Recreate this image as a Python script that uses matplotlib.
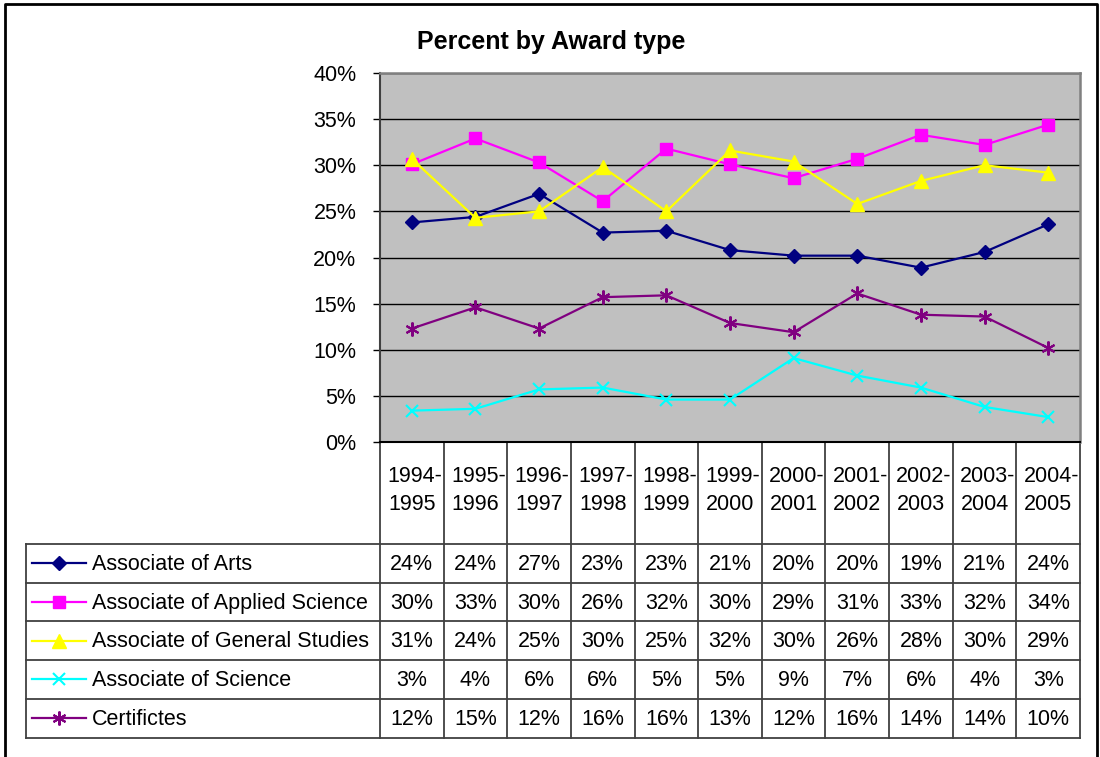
import numpy as np
import matplotlib
matplotlib.use("Agg")
import matplotlib.pyplot as plt

plt.rcParams['font.family'] = ['Liberation Sans', 'DejaVu Sans']

years = ["1994-\n1995", "1995-\n1996", "1996-\n1997", "1997-\n1998", "1998-\n1999",
         "1999-\n2000", "2000-\n2001", "2001-\n2002", "2002-\n2003", "2003-\n2004",
         "2004-\n2005"]

assoc_arts = [23.8, 24.4, 26.9, 22.7, 22.9, 20.8, 20.2, 20.2, 18.9, 20.6, 23.6]
assoc_applied = [30.1, 32.9, 30.3, 26.1, 31.8, 30.1, 28.6, 30.7, 33.3, 32.2, 34.4]
assoc_general = [30.7, 24.3, 25.0, 29.8, 25.0, 31.6, 30.4, 25.8, 28.3, 30.0, 29.2]
assoc_science = [3.4, 3.6, 5.7, 5.9, 4.6, 4.6, 9.1, 7.2, 5.9, 3.8, 2.7]
certificates = [12.3, 14.6, 12.3, 15.7, 15.9, 12.9, 11.9, 16.1, 13.8, 13.6, 10.2]

names = ["Associate of Arts", "Associate of Applied Science",
         "Associate of General Studies", "Associate of Science", "Certifictes"]
series = [assoc_arts, assoc_applied, assoc_general, assoc_science, certificates]

# colour, marker, marker size, marker edge width
styles = [("#000080", "D", 7.5, 1.0),
          ("#FF00FF", "s", 8, 1.0),
          ("#FFFF00", "^", 10, 1.0),
          ("#00FFFF", "x", 9, 1.5),
          ("#800080", (6, 2, 0), 10, 1.5)]

FS = 15.5

W, H = 1100, 757
fig = plt.figure(figsize=(W / 100, H / 100), dpi=100)

# plot area in pixels
px_l, px_r, px_t, px_b = 380, 1080, 73, 442
ax = fig.add_axes([px_l / W, 1 - px_b / H, (px_r - px_l) / W, (px_b - px_t) / H])
ax.set_facecolor("#C0C0C0")
n = len(years)
x = np.arange(n)
for vals, (c, m, ms, mew) in zip(series, styles):
    ax.plot(x, vals, color=c, lw=1.6, marker=m, ms=ms, mec=c, mfc=c, mew=mew,
            clip_on=False, zorder=3)
ax.set_xlim(-0.5, n - 0.5)
ax.set_ylim(0, 40)
ax.set_yticks(np.arange(0, 41, 5))
ax.set_yticklabels([f"{v}%" for v in range(0, 41, 5)], fontsize=FS)
ax.yaxis.grid(True, color="black", lw=1.0)
ax.set_axisbelow(True)
ax.set_xticks([])
ax.tick_params(axis="y", direction="out", length=5, width=1, pad=12)
for s in ["top", "right"]:
    ax.spines[s].set_color("#808080")
    ax.spines[s].set_linewidth(1.8)
ax.spines["left"].set_color("#404040")
ax.spines["left"].set_linewidth(1.5)
ax.spines["bottom"].set_color("black")
ax.spines["bottom"].set_linewidth(1.5)

fig.text(551 / W, 1 - 42 / H, "Percent by Award type", ha="center", va="center",
         fontsize=18, fontweight="bold")

# data table drawn in figure pixel coordinates
tab = fig.add_axes([0, 0, 1, 1], zorder=-1)
tab.set_xlim(0, W)
tab.set_ylim(H, 0)
tab.axis("off")

col_w = (px_r - px_l) / n
col_edges = [px_l + i * col_w for i in range(n + 1)]
row_top = 544
row_h = 38.7
row_edges = [row_top + i * row_h for i in range(len(series) + 1)]
leg_l = 26

line_c = "#404040"
for xe in col_edges:
    tab.plot([xe, xe], [px_b, row_edges[-1]], color=line_c, lw=1.3)
tab.plot([leg_l, leg_l], [row_top, row_edges[-1]], color=line_c, lw=1.3)
for ye in row_edges:
    tab.plot([leg_l, px_r], [ye, ye], color=line_c, lw=1.3)

for i, yl in enumerate(years):
    cx = col_edges[i] + col_w / 2
    a, b = yl.split("\n")
    tab.text(cx + 3, 476, a, ha="center", va="center", fontsize=FS)
    tab.text(cx, 504, b, ha="center", va="center", fontsize=FS)

for r, (name, vals, (c, m, ms, mew)) in enumerate(zip(names, series, styles)):
    cy = row_edges[r] + row_h / 2
    tab.plot([32, 86], [cy, cy], color=c, lw=1.6)
    tab.plot([59], [cy], marker=m, ms=ms, mec=c, mfc=c, mew=mew, color=c)
    tab.text(92, cy + 1, name, ha="left", va="center", fontsize=FS)
    for i, v in enumerate(vals):
        cx = col_edges[i] + col_w / 2
        tab.text(cx, cy + 1, f"{int(v + 0.5)}%", ha="center", va="center", fontsize=FS)

# outer chart border
tab.plot([5, 5, 1097, 1097], [H + 5, 4, 4, H + 5], color="black", lw=2, clip_on=False)

fig.savefig("out.png", dpi=100)
